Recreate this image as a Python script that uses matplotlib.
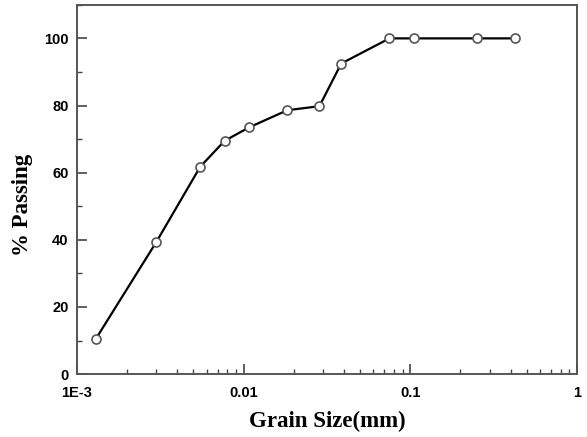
import matplotlib
matplotlib.use("Agg")
import matplotlib.pyplot as plt
from matplotlib.ticker import FixedLocator, LogLocator, NullFormatter, MultipleLocator

# Particle size distribution
grain_size_mm = [0.0013, 0.003, 0.0055, 0.0077, 0.0108, 0.0183, 0.0285, 0.0385,
                 0.075, 0.105, 0.25, 0.425]
percent_passing = [10.5, 39.4, 61.8, 69.5, 73.5, 78.6, 79.8, 92.5,
                   100, 100, 100, 100]

x_ticks = [0.001, 0.01, 0.1, 1]
x_tick_labels = ["1E-3", "0.01", "0.1", "1"]
y_ticks = [0, 20, 40, 60, 80, 100]

fig = plt.figure(figsize=(5.87, 4.37), dpi=100)
ax = fig.add_axes([0.131, 0.144, 0.852, 0.845])

ax.plot(grain_size_mm, percent_passing, color="black", lw=1.6,
        marker="o", ms=6.5, mfc="white", mec="#555555", mew=1.2, zorder=3)

ax.set_xscale("log")
ax.set_xlim(0.001, 1)
ax.set_ylim(0, 110)

ax.xaxis.set_major_locator(FixedLocator(x_ticks))
ax.set_xticklabels(x_tick_labels)
ax.xaxis.set_minor_locator(LogLocator(base=10, subs=range(2, 10)))
ax.xaxis.set_minor_formatter(NullFormatter())
ax.set_yticks(y_ticks)
ax.yaxis.set_minor_locator(MultipleLocator(10))

for lbl in ax.get_xticklabels() + ax.get_yticklabels():
    lbl.set_fontfamily("Liberation Sans")
    lbl.set_fontweight("bold")
    lbl.set_fontsize(10.5)

ax.tick_params(which="major", direction="in", length=7, width=1.2,
               color="#444444")
ax.tick_params(axis="x", which="major", pad=8.5)
ax.tick_params(axis="y", which="major", pad=6)
ax.tick_params(which="minor", direction="in", length=3.5, width=1.0,
               color="#444444")
for sp in ax.spines.values():
    sp.set_color("#555555")
    sp.set_linewidth(1.4)

label_font = {"family": "Liberation Serif", "weight": "bold", "size": 16.5}
ax.set_xlabel("Grain Size(mm)", fontdict=label_font, labelpad=8)
ax.set_ylabel("% Passing", fontdict=label_font)
ax.yaxis.set_label_coords(-0.088, 0.458)

fig.savefig("out.png", dpi=100)
